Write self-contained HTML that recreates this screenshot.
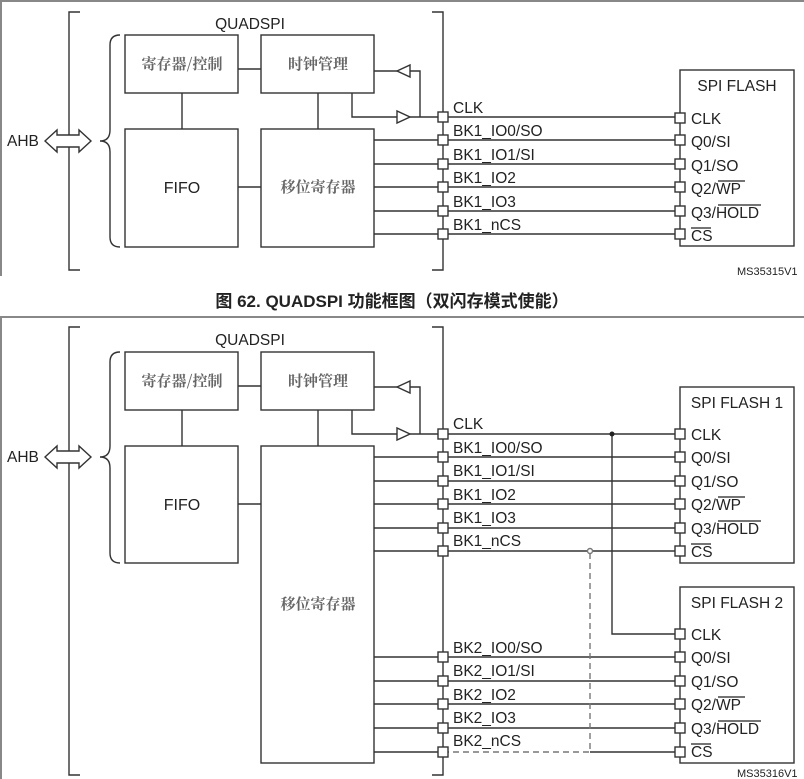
<!DOCTYPE html>
<html><head><meta charset="utf-8"><style>
html,body{margin:0;padding:0;background:#fff;}
svg{display:block;}
.t{font-family:"Liberation Sans","Noto Sans CJK SC",sans-serif;fill:#222;}
.c{font-family:"Noto Serif CJK SC","Noto Sans CJK SC",serif;fill:#666;font-size:15px;font-weight:bold;}
</style></head><body>
<svg width="804" height="779" viewBox="0 0 804 779" xmlns="http://www.w3.org/2000/svg">
<g fill="none" stroke="#888" stroke-width="2">
<path d="M1 276 V1 H804"/>
<path d="M1 779 V317 H804"/>
</g>
<g fill="none" stroke="#333" stroke-width="1.4">
<path d="M80 12 H69 V270 H80"/><path d="M432 12 H443 V270 H432"/>
<path d="M120 35 Q110 35 110 45 V130 Q110 141 100 141 Q110 141 110 152 V237 Q110 247 120 247"/>
<rect x="125" y="35" width="113" height="58"/><rect x="261" y="35" width="113" height="58"/>
<rect x="125" y="129" width="113" height="118"/><rect x="261" y="129" width="113" height="118"/>
<path d="M238 69 H261 M182 93 V129 M318 93 V129 M238 187 H261"/>
<path d="M374 71 H397 M410 71 H420 V117"/>
<path d="M397 71 L410 65 V77 Z"/>
<path d="M352 93 V117 H397 M410 117 H680"/>
<path d="M397 111 V123 L410 117 Z"/>
<path d="M374 140 H680 M374 164 H680 M374 187 H680 M374 211 H680 M374 234 H680"/>
<rect x="680" y="70" width="114" height="176"/>
<g fill="#fff">
<rect x="438" y="112" width="10" height="10"/><rect x="438" y="135" width="10" height="10"/><rect x="438" y="159" width="10" height="10"/><rect x="438" y="182" width="10" height="10"/><rect x="438" y="206" width="10" height="10"/><rect x="438" y="229" width="10" height="10"/>
<rect x="675" y="113" width="10" height="10"/><rect x="675" y="135" width="10" height="10"/><rect x="675" y="159" width="10" height="10"/><rect x="675" y="182" width="10" height="10"/><rect x="675" y="206" width="10" height="10"/><rect x="675" y="229" width="10" height="10"/>
</g>
<path d="M45 141 L57 130 V135 H79 V130 L91 141 L79 152 V147 H57 V152 Z" fill="#fff"/>
<path d="M80 327 H69 V775 H80"/><path d="M432 327 H443 V775 H432"/>
<path d="M120 352 Q110 352 110 362 V446 Q110 457 100 457 Q110 457 110 468 V553 Q110 563 120 563"/>
<rect x="125" y="352" width="113" height="58"/><rect x="261" y="352" width="113" height="58"/>
<rect x="125" y="446" width="113" height="117"/><rect x="261" y="446" width="113" height="317"/>
<path d="M238 386 H261 M182 410 V446 M318 410 V446 M238 504 H261"/>
<path d="M374 387 H397 M410 387 H420 V434"/>
<path d="M397 387 L410 381 V393 Z"/>
<path d="M352 410 V434 H397 M410 434 H680"/>
<path d="M397 428 V440 L410 434 Z"/>
<path d="M374 457 H680 M374 481 H680 M374 504 H680 M374 528 H680 M374 551 H680"/>
<path d="M374 657 H680 M374 681 H680 M374 704 H680 M374 728 H680 M374 752 H443 M590 752 H680"/>
<path d="M612 434 V634 H680"/>
<path d="M443 752 H590 V551" stroke-dasharray="6 4" stroke="#777"/>
<rect x="680" y="387" width="114" height="176"/><rect x="680" y="587" width="114" height="176"/>
<g fill="#fff">
<rect x="438" y="429" width="10" height="10"/><rect x="438" y="452" width="10" height="10"/><rect x="438" y="476" width="10" height="10"/><rect x="438" y="499" width="10" height="10"/><rect x="438" y="523" width="10" height="10"/><rect x="438" y="546" width="10" height="10"/>
<rect x="438" y="652" width="10" height="10"/><rect x="438" y="676" width="10" height="10"/><rect x="438" y="699" width="10" height="10"/><rect x="438" y="723" width="10" height="10"/><rect x="438" y="747" width="10" height="10"/>
<rect x="675" y="429" width="10" height="10"/><rect x="675" y="452" width="10" height="10"/><rect x="675" y="476" width="10" height="10"/><rect x="675" y="499" width="10" height="10"/><rect x="675" y="523" width="10" height="10"/><rect x="675" y="546" width="10" height="10"/>
<rect x="675" y="629" width="10" height="10"/><rect x="675" y="652" width="10" height="10"/><rect x="675" y="676" width="10" height="10"/><rect x="675" y="699" width="10" height="10"/><rect x="675" y="723" width="10" height="10"/><rect x="675" y="747" width="10" height="10"/>
</g>
<circle cx="590" cy="551" r="2.5" fill="#fff" stroke="#777"/>
<path d="M45 457 L57 446 V451 H79 V446 L91 457 L79 468 V463 H57 V468 Z" fill="#fff"/>
</g>
<circle cx="612" cy="434" r="2.5" fill="#222"/>
<g class="t" font-size="15.5">
<text x="7" y="146">AHB</text>
<text x="250" y="29" text-anchor="middle">QUADSPI</text>
<text x="182" y="193" text-anchor="middle" font-size="16">FIFO</text>
<text x="737" y="91" text-anchor="middle">SPI FLASH</text>
<text x="7" y="462">AHB</text>
<text x="250" y="345" text-anchor="middle">QUADSPI</text>
<text x="182" y="510" text-anchor="middle" font-size="16">FIFO</text>
<text x="737" y="408" text-anchor="middle">SPI FLASH 1</text>
<text x="737" y="608" text-anchor="middle">SPI FLASH 2</text>
</g>
<g class="c" text-anchor="middle">
<text x="182" y="69">寄存器/控制</text><text x="318" y="69">时钟管理</text><text x="318" y="192">移位寄存器</text>
<text x="182" y="386">寄存器/控制</text><text x="318" y="386">时钟管理</text><text x="318" y="609">移位寄存器</text>
</g>
<g class="t" font-size="15.5">
<text x="453" y="113">CLK</text><text x="453" y="136">BK1_IO0/SO</text><text x="453" y="160">BK1_IO1/SI</text><text x="453" y="183">BK1_IO2</text><text x="453" y="207">BK1_IO3</text><text x="453" y="230">BK1_nCS</text>
<text x="453" y="429">CLK</text><text x="453" y="453">BK1_IO0/SO</text><text x="453" y="476">BK1_IO1/SI</text><text x="453" y="500">BK1_IO2</text><text x="453" y="523">BK1_IO3</text><text x="453" y="546">BK1_nCS</text>
<text x="453" y="653">BK2_IO0/SO</text><text x="453" y="676">BK2_IO1/SI</text><text x="453" y="700">BK2_IO2</text><text x="453" y="723">BK2_IO3</text><text x="453" y="746">BK2_nCS</text>
</g>
<g class="t" font-size="15.5">
<text x="691" y="124">CLK</text><text x="691" y="147">Q0/SI</text><text x="691" y="171">Q1/SO</text><text x="691" y="194">Q2/WP</text><text x="691" y="218">Q3/HOLD</text><text x="691" y="241">CS</text>
<text x="691" y="440">CLK</text><text x="691" y="463">Q0/SI</text><text x="691" y="487">Q1/SO</text><text x="691" y="510">Q2/WP</text><text x="691" y="534">Q3/HOLD</text><text x="691" y="557">CS</text>
<text x="691" y="640">CLK</text><text x="691" y="663">Q0/SI</text><text x="691" y="687">Q1/SO</text><text x="691" y="710">Q2/WP</text><text x="691" y="734">Q3/HOLD</text><text x="691" y="757">CS</text>
</g>
<g stroke="#222" stroke-width="1.2">
<path d="M718 181 H745 M718 205 H761 M691 228 H711"/>
<path d="M718 497 H745 M718 521 H761 M691 544 H711"/>
<path d="M718 697 H745 M718 721 H761 M691 744 H711"/>
</g>
<g class="t" font-size="11" fill="#444">
<text x="737" y="275">MS35315V1</text>
<text x="737" y="777">MS35316V1</text>
</g>
<text x="392" y="307" text-anchor="middle" class="t" font-size="17" font-weight="bold" fill="#111">图 62. QUADSPI 功能框图（双闪存模式使能）</text>
</svg>
</body></html>
